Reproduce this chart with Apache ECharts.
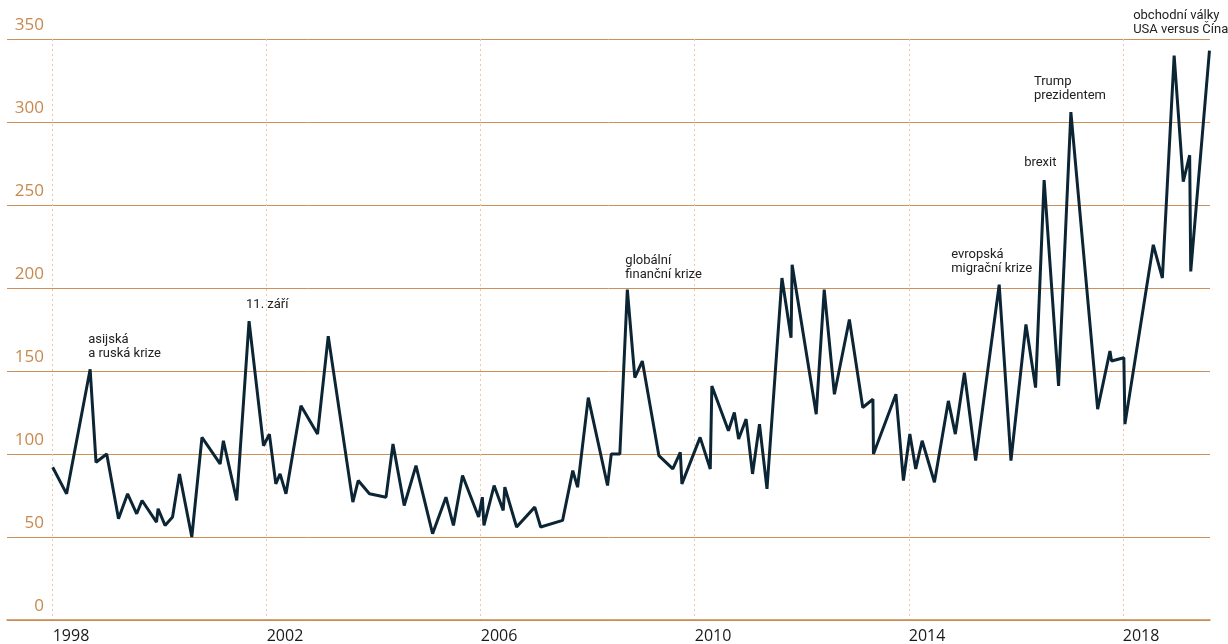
<!DOCTYPE html>
<html>
<head>
<meta charset="utf-8">
<script src="https://cdn.jsdelivr.net/npm/echarts@6/dist/echarts.min.js"></script>
<style>html,body{margin:0;padding:0;background:#fff}#c{width:1228px;height:644px}</style>
</head>
<body>
<div id="c"></div>
<script>
// time in decimal years
const years = [1998.00,1998.26,1998.70,1998.81,1999.01,1999.23,1999.40,1999.57,1999.67,1999.94,1999.97,2000.10,2000.24,2000.37,2000.60,2000.79,2001.13,2001.19,2001.44,2001.67,2001.94,2002.05,2002.17,2002.25,2002.36,2002.64,2002.95,2003.15,2003.61,2003.71,2003.92,2004.23,2004.36,2004.57,2004.79,2005.10,2005.35,2005.49,2005.66,2005.96,2006.03,2006.06,2006.25,2006.42,2006.45,2006.67,2007.01,2007.12,2007.53,2007.72,2007.81,2008.01,2008.37,2008.44,2008.60,2008.74,2008.88,2009.02,2009.33,2009.59,2009.73,2009.76,2010.10,2010.29,2010.32,2010.63,2010.74,2010.82,2010.96,2011.08,2011.21,2011.35,2011.63,2011.80,2011.82,2012.27,2012.42,2012.61,2012.89,2013.14,2013.33,2013.34,2013.76,2013.90,2014.02,2014.13,2014.25,2014.48,2014.74,2014.87,2015.04,2015.25,2015.69,2015.91,2016.19,2016.37,2016.53,2016.80,2017.03,2017.53,2017.76,2017.79,2018.02,2018.04,2018.57,2018.74,2018.96,2019.13,2019.25,2019.27,2019.62];
const values = [92,76,151,95,100,61,76,64,72,59,67,57,62,88,50,110,94,108,72,180,105,112,82,88,76,129,112,171,71,84,76,74,106,69,93,52,74,57,87,62,74,57,81,66,80,56,68,56,60,90,80,134,81,100,100,199,146,156,99,91,101,82,110,91,141,114,125,109,121,88,118,79,206,170,214,124,199,136,181,128,133,100,136,84,112,91,108,83,132,112,149,96,202,96,178,140,265,141,306,127,162,156,158,118,226,206,340,264,280,210,343];
const xTicks = [1998, 2002, 2006, 2010, 2014, 2018];
const yTicks = [0, 50, 100, 150, 200, 250, 300, 350];
const eventTexts = ['asijská\na ruská krize', '11. září', 'globální\nfinanční krize', 'evropská\nmigrační krize', 'brexit', 'Trump\nprezidentem', 'obchodní války\nUSA versus Čína'];
const eventYears = [1998.70, 2001.67, 2008.74, 2015.69, 2016.53, 2017.03, 2018.96];
const eventValues = [151, 180, 199, 202, 265, 306, 340];

const labelOffsets = [[-2,-9],[-3,-9],[-2,-8],[-48,-9],[-20,-10],[-37,-9],[-41,-19]];

const chart = echarts.init(document.getElementById('c'), null, {renderer: 'canvas'});
const data = years.map((t, i) => [t, values[i]]);
const marks = eventTexts.map((txt, i) => ({
  coord: [eventYears[i], eventValues[i]],
  symbol: 'circle', symbolSize: 0,
  label: {
    show: true, formatter: txt, position: labelOffsets[i],
    align: 'left', verticalAlign: 'bottom',
    fontFamily: 'Roboto', fontSize: 13, lineHeight: 14, color: '#222'
  }
}));
chart.setOption({
  animation: false,
  grid: {left: 7, right: 18, top: 39, bottom: 22, containLabel: false},
  xAxis: {
    type: 'value', min: 1997.146, max: 2019.63,
    axisLine: {show: true, lineStyle: {color: '#c98a52', width: 1.5}},
    axisTick: {show: false, customValues: xTicks},
    axisLabel: {customValues: xTicks, formatter: v => String(v), align: 'left', margin: 8,
      fontFamily: 'Open Sans', fontSize: 16, color: '#1a1a1a'},
    splitLine: {show: true, lineStyle: {color: '#eec7a8', type: [2, 3], width: 1}}
  },
  yAxis: {
    type: 'value', min: 0, max: 350, interval: 50,
    axisLine: {show: false}, axisTick: {show: false},
    axisLabel: {inside: true, margin: 37, align: 'right', verticalAlign: 'bottom', padding: [0,0,5,0],
      fontFamily: 'Open Sans', fontSize: 17, color: '#c8894e'},
    splitLine: {show: true, lineStyle: {color: '#cc9058', width: 1}}
  },
  series: [{
    type: 'line', data: data, symbol: 'none', z: 5,
    lineStyle: {color: '#0c2535', width: 3, join: 'bevel'},
    markPoint: {data: marks, silent: true}
  }]
});
</script>
</body>
</html>
